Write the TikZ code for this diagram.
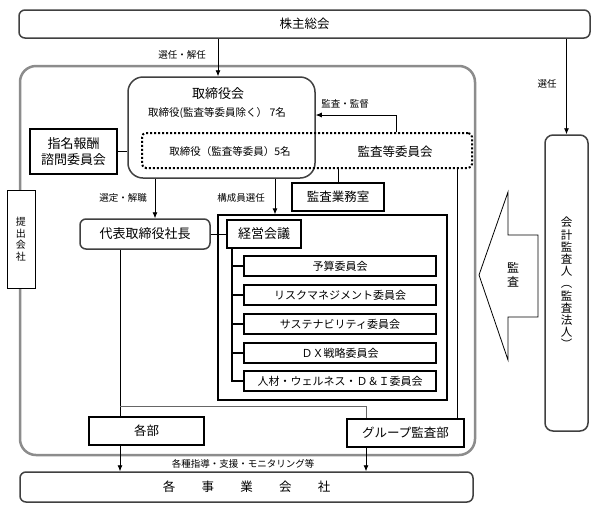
\documentclass[tikz,border=0pt]{standalone}
\usepackage{fontspec}
\setmainfont{Noto Sans CJK JP}
\usetikzlibrary{arrows.meta}
\newcommand{\fs}[2]{\fontsize{#1}{#2}\selectfont}
\begin{document}
\begin{tikzpicture}[x=1pt,y=-1pt,
  box/.style={draw=black, line width=1.3pt, inner sep=0pt, fill=white},
  rbox/.style={draw=black!75, line width=1.5pt, rounded corners=6pt, inner sep=0pt, fill=white},
  con/.style={draw=black, line width=0.8pt},
  arr/.style={con, -{Latex[length=6pt,width=5pt]}},
  lbl/.style={font=\fs{9.5}{11}, inner sep=0pt},
  sub/.style={box, minimum width=192pt, minimum height=20pt, font=\fs{11}{12}}
]
\useasboundingbox (0,0) rectangle (597,507);
\fill[white] (0,0) rectangle (597,507);

% outer company frame
\draw[draw=black!45, line width=2.5pt, rounded corners=16pt] (20,66) rectangle (475,455);

% top: shareholders
\node[rbox, minimum width=571pt, minimum height=28pt, font=\fs{12.5}{14}] (sh) at (304.5,24) {株主総会};

% board
\node[rbox, rounded corners=15pt, minimum width=187pt, minimum height=101pt, fill=none] (bod) at (221.5,127.5) {};
\node[font=\fs{13}{15}, inner sep=0pt] (bodt) at (218,94) {取締役会};
\node[font=\fs{10.5}{12}, inner sep=0pt] (bodm) at (217,113) {取締役(監査等委員除く）\ 7名};

% audit committee (dotted)
\node[draw=black, line width=2pt, dotted, rounded corners=4pt, minimum width=330pt, minimum height=35pt, inner sep=0pt] (ac) at (307,150.5) {};
\node[font=\fs{10.5}{12}, inner sep=0pt] (acm) at (230,152) {取締役（監査等委員）5名};
\node[font=\fs{12.5}{14}, inner sep=0pt] (act) at (395,152) {監査等委員会};

% nomination committee
\node[box, minimum width=87pt, minimum height=45pt, align=center, font=\fs{13}{16}] (nom) at (73.5,151.5) {指名報酬\\諮問委員会};
\draw[con] (nom.east) -- (nom.east -| bod.west);

% audit office
\node[box, minimum width=92pt, minimum height=28pt, font=\fs{12.5}{14}] (off) at (338,197) {監査業務室};
\draw[con] (ac.south -| off.north) -- (off.north);

% submitting company label
\node[box, line width=1pt, minimum width=28pt, minimum height=98pt, align=center, font=\fs{10}{11.5}] (sub0) at (21,239) {提\\出\\会\\社};

% president
\node[rbox, minimum width=130pt, minimum height=30pt, font=\fs{13}{15}] (pres) at (145,234) {代表取締役社長};

% management meeting container
\node[box, minimum width=229pt, minimum height=185pt, fill=none] (mc) at (332.5,307.5) {};
\node[box, minimum width=74pt, minimum height=28pt, font=\fs{13}{15}] (mtg) at (264,234) {経営会議};
\draw[con] (pres.east) -- (mtg.west);

\node[sub] (s1) at (340,266) {予算委員会};
\node[sub] (s2) at (340,295) {リスクマネジメント委員会};
\node[sub] (s3) at (340,324) {サステナビリティ委員会};
\node[sub] (s4) at (340,353) {ＤＸ戦略委員会};
\node[sub] (s5) at (340,381) {人材・ウェルネス・Ｄ＆Ｉ委員会};
\coordinate (tx) at (232,0);
\draw[con, line width=1.1pt] (mtg.south -| tx) -- (s5.west -| tx) -- (s5.west);
\foreach \s in {s1,s2,s3,s4} \draw[con, line width=1.1pt] (\s.west -| tx) -- (\s.west);

% departments
\node[box, minimum width=115pt, minimum height=28pt, font=\fs{12.5}{14}] (dep) at (146.5,431) {各部};
\node[box, minimum width=117pt, minimum height=28pt, font=\fs{12.5}{14}] (gad) at (405.5,433) {グループ監査部};

% group companies
\node[rbox, minimum width=453pt, minimum height=30pt, font=\fs{12.5}{14}] (grp) at (246.5,487) {各\hspace{2.1em}事\hspace{2.1em}業\hspace{2.1em}会\hspace{2.1em}社};

% accounting auditor
\node[rbox, rounded corners=8pt, minimum width=43pt, minimum height=296pt, align=center, font=\fs{11.5}{12.2}] (aud) at (566.5,283) {会\\計\\監\\査\\人\\︵\\監\\査\\法\\人\\︶};

% big audit arrow
\draw[draw=black, line width=0.8pt, fill=white] (479,275) -- (508,192) -- (508,235) -- (538,235) -- (538,317) -- (508,317) -- (508,360) -- cycle;
\node[align=center, font=\fs{12}{14}, inner sep=0pt] (kansa) at (513,275) {監\\査};

% connectors
\coordinate (x218) at (218,0);
\coordinate (x155) at (155,0);
\coordinate (x275) at (275,0);
\coordinate (x457) at (457,0);
\coordinate (x120) at (120,0);
\coordinate (x366) at (366,0);
\coordinate (kk) at (396,115);
\coordinate (jn) at (120,406);

\draw[arr] (sh.south -| x218) -- (bod.north -| x218);
\node[lbl] (l1) at (182,55) {選任・解任};

\draw[arr] (sh.south -| aud.north) -- (aud.north);
\node[lbl] (l2) at (547,84) {選任};

\draw[arr] (ac.north -| kk) -- (kk) -- (kk -| bod.east);
\node[lbl] (l3) at (345,104) {監査・監督};

\draw[arr] (bod.south -| x155) -- (pres.north -| x155);
\node[lbl] (l4) at (123,198) {選定・解職};

\draw[arr] (bod.south -| x275) -- (mc.north -| x275);
\node[lbl] (l5) at (241,198) {構成員選任};

\draw[con] (ac.south -| x457) -- (gad.north -| x457);

\draw[con] (pres.south -| x120) -- (dep.north -| x120);
\draw[con, draw=black!60] (jn) -| (gad.north -| x366);

\draw[arr] (dep.south -| x120) -- (grp.north -| x120);
\draw[arr] (gad.south -| x366) -- (grp.north -| x366);
\node[lbl] (l6) at (243,464) {各種指導・支援・モニタリング等};

\end{tikzpicture}
\end{document}
